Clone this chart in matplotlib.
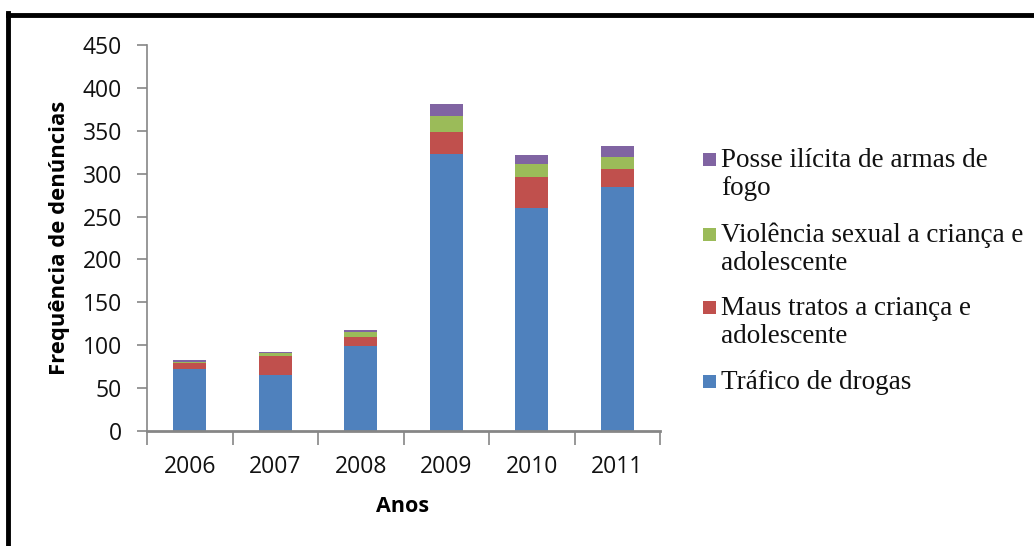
import matplotlib
matplotlib.use("Agg")
import matplotlib.pyplot as plt
from matplotlib.patches import Rectangle
from matplotlib.lines import Line2D
import numpy as np

years = ["2006", "2007", "2008", "2009", "2010", "2011"]
trafico = [72, 65, 99, 323, 260, 285]
maus_tratos = [7, 22, 11, 26, 36, 20]
violencia = [2, 4, 5, 18, 15, 15]
posse = [2, 1, 3, 14, 11, 12]

series_labels = [
    "Tráfico de drogas",
    "Maus tratos a criança e\nadolescente",
    "Violência sexual a criança e\nadolescente",
    "Posse ilícita de armas de\nfogo",
]
colors = ["#4F81BD", "#C0504D", "#9BBB59", "#8064A2"]
yticks = [0, 50, 100, 150, 200, 250, 300, 350, 400, 450]

W, H = 1034, 546
fig = plt.figure(figsize=(W / 100, H / 100), dpi=100)

def fx(px):
    return px / W

def fy(py):
    return 1 - py / H

ax = fig.add_axes([fx(147), fy(431), fx(660) - fx(147), fy(45) - fy(431)])

x = np.arange(len(years))
data = [trafico, maus_tratos, violencia, posse]
bottom = np.zeros(len(years))
for vals, col in zip(data, colors):
    ax.bar(x, vals, bottom=bottom, width=0.39, color=col, edgecolor="none")
    bottom += np.array(vals)

ax.set_xlim(-0.5, len(years) - 0.5)
ax.set_ylim(0, 450)
ax.set_yticks(yticks)
ax.set_yticklabels([str(v) for v in yticks], fontsize=16.5, family="Open Sans", color="#111111")
ax.set_xticks(x)
ax.set_xticklabels(years, fontsize=16.5, family="Open Sans", color="#111111")
ax.tick_params(axis="x", length=0, pad=17)
ax.tick_params(axis="y", length=7, width=1.2, color="#868686", pad=11)
# minor ticks at category boundaries on x axis
ax.set_xticks(np.arange(-0.5, len(years)), minor=True)
ax.tick_params(axis="x", which="minor", length=10, width=1.2, color="#868686")

for s in ["top", "right"]:
    ax.spines[s].set_visible(False)
ax.spines["left"].set_color("#868686")
ax.spines["bottom"].set_color("#868686")
ax.spines["left"].set_linewidth(1.2)
ax.spines["bottom"].set_linewidth(2)

fig.text(fx(60), fy(238), "Frequência de denúncias", rotation=90, ha="center", va="center",
         fontsize=15.8, fontweight="bold", family="Open Sans")
fig.text(fx(403), fy(507), "Anos", ha="center", va="center",
         fontsize=15.5, fontweight="bold", family="Open Sans")

# legend (reverse order, marker aligned with first line)
leg_y = [160, 235, 308, 382]
for i, idx in enumerate([3, 2, 1, 0]):
    yc = leg_y[i]
    fig.patches.append(Rectangle((fx(703), fy(yc + 6)), fx(13), fy(yc - 7) - fy(yc + 6),
                                 transform=fig.transFigure, facecolor=colors[idx], edgecolor="none"))
    fig.text(fx(721), fy(yc - 12), series_labels[idx], ha="left", va="top",
             fontsize=19.5, family="Liberation Serif", linespacing=1.14, color="#111111")

# outer frame
fig.add_artist(Line2D([fx(8), 1], [fy(15), fy(15)], color="black", lw=3.5, transform=fig.transFigure))
fig.add_artist(Line2D([fx(8), fx(8)], [fy(13), 0], color="black", lw=3.5, transform=fig.transFigure))

fig.savefig("out.png", dpi=100)
